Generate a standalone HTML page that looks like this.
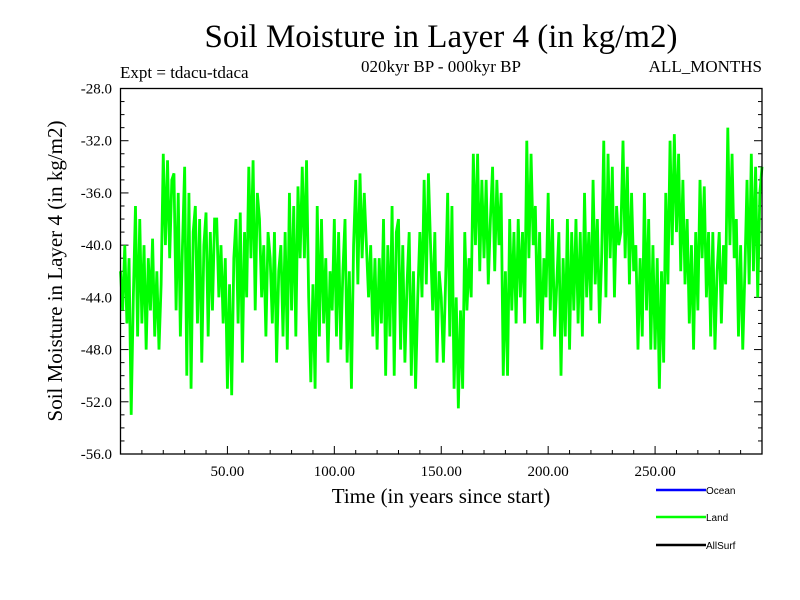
<!DOCTYPE html>
<html><head><meta charset="utf-8"><style>
html,body{margin:0;padding:0;background:#fff;}
svg{display:block;font-family:"Liberation Serif",serif;}
</style></head><body>
<svg id="chart" width="800" height="600" viewBox="0 0 800 600">
<rect width="800" height="600" fill="#fff"/>
<text x="441" y="47" font-size="33" text-anchor="middle">Soil Moisture in Layer 4 (in kg/m2)</text>
<text x="120" y="78" font-size="17">Expt = tdacu-tdaca</text>
<text x="441" y="72" font-size="17" text-anchor="middle">020kyr BP - 000kyr BP</text>
<text x="762" y="72" font-size="17" text-anchor="end">ALL_MONTHS</text>
<text x="441" y="503" font-size="21" text-anchor="middle">Time (in years since start)</text>
<text transform="translate(62,271) rotate(-90)" font-size="21" text-anchor="middle">Soil Moisture in Layer 4 (in kg/m2)</text>
<g id="ticks"></g>
<g id="plot"></g>
<rect x="120.5" y="88.5" width="641.5" height="365.5" fill="none" stroke="#000" stroke-width="1.3"/>
<g font-family="'Liberation Sans',sans-serif" font-size="10">
<g><line x1="656" y1="490" x2="706" y2="490" stroke="#0000ff" stroke-width="2.5"/><text x="706" y="494">Ocean</text></g>
<g><line x1="656" y1="517" x2="706" y2="517" stroke="#00ff00" stroke-width="2.5"/><text x="706" y="521">Land</text></g>
<g><line x1="656" y1="545" x2="706" y2="545" stroke="#000" stroke-width="2.5"/><text x="706" y="549">AllSurf</text></g>
</g>
</svg>
<script>
const landValues = [
-42,-45,-40,-46,-41,
-53,-44,-37,-47,-38,
-46,-40,-48,-41,-45,
-39.5,-47,-42,-48,-43,
-33,-40,-33.5,-41,-35,
-34.5,-45,-36,-47,-40,
-34,-50,-36,-51,-39,
-37,-46,-38,-49,-40,
-37.5,-47,-39,-45,-38,
-38,-44,-40,-46,-41,
-51,-43,-51.5,-41,-38,
-46,-37.5,-49,-39,-44,
-34,-41,-33.5,-45,-36,
-38,-44,-40,-47,-39,
-41,-46,-39,-49,-42,
-40,-47,-39,-48,-36,
-45,-37,-47,-35.5,-41,
-34,-41,-33.5,-44,-50.5,
-43,-51,-37,-47,-38,
-46,-41,-49,-42,-45,
-38,-47,-39,-48,-42,
-38,-49,-42,-51,-40,
-35,-43,-34.5,-41,-36,
-40,-44,-40,-47,-41,
-48,-41,-46,-38,-50,
-40,-47,-37,-50,-39,
-38,-48,-40,-49,-43,
-39,-50,-42,-51,-44,
-39,-44,-35,-43,-34.5,
-40,-45,-39,-49,-42,
-44,-49,-43,-36,-47,
-37,-51,-44,-52.5,-45,
-51,-39,-45,-41,-44,
-33,-40,-33,-42,-35,
-41,-35,-43,-38,-34,
-42,-35,-40,-36,-50,
-42,-50,-38,-45,-39,
-46,-38,-44,-39,-46,
-32,-41,-33,-40,-37,
-46,-39,-48,-41,-44,
-36,-45,-38,-47,-43,
-39,-50,-41,-47,-38,
-48,-39,-45,-38,-46,
-39,-47,-36,-44,-39,
-45,-35,-43,-38,-46,
-41,-32,-44,-33,-41,
-34,-44,-37,-40,-39,
-32,-41,-34,-43,-36,
-42,-40,-48,-41,-47,
-36,-45,-38,-48,-40,
-48,-41,-51,-42,-49,
-36,-43,-32,-40,-31.5,
-39,-33,-42,-35,-43,
-38,-46,-40,-48,-39,
-45,-35,-41,-35.5,-44,
-39,-47,-39,-48,-42,
-39,-46,-40,-43,-31,
-40,-33,-41,-38,-47,
-40,-48,-42,-35,-43,
-33,-42,-34,-44,-36,
-34
];
const xTickLabels = [50, 100, 150, 200, 250];
const yTickLabels = [-28, -32, -36, -40, -44, -48, -52, -56];

const NS = "http://www.w3.org/2000/svg";
const X0 = 120.5, X1 = 762, Y0 = 88.5, Y1 = 454;
const xMin = 0, xMax = 300, yMin = -56, yMax = -28;
function xs(v){ return X0 + (v - xMin) / (xMax - xMin) * (X1 - X0); }
function ys(v){ return Y1 - (v - yMin) / (yMax - yMin) * (Y1 - Y0); }

const ticks = document.getElementById('ticks');
const plot = document.getElementById('plot');
function mk(tag, attrs, parent){
  const e = document.createElementNS(NS, tag);
  for (const k in attrs) e.setAttribute(k, attrs[k]);
  parent.appendChild(e);
  return e;
}
for (let v = yMin; v <= yMax; v += 1) {
  const y = ys(v);
  const len = (v % 4 === 0) ? 8 : 4;
  const t1 = mk('line', {x1: X0, x2: X0 + len, y1: y, y2: y, stroke: '#000', 'stroke-width': 1}, ticks);
  
  
  const t2 = mk('line', {x1: X1, x2: X1 - len, y1: y, y2: y, stroke: '#000', 'stroke-width': 1}, ticks);
  
  
}
yTickLabels.forEach(v => {
  const t = mk('text', {x: 112, y: ys(v) + 5, 'font-size': 15, 'text-anchor': 'end'}, ticks);
  t.textContent = v.toFixed(1);
  
  
});
for (let v = 10; v < xMax; v += 10) {
  const x = xs(v);
  const len = (v % 50 === 0) ? 8 : 4;
  const t = mk('line', {x1: x, x2: x, y1: Y1, y2: Y1 - len, stroke: '#000', 'stroke-width': 1}, ticks);
  
  
}
xTickLabels.forEach(v => {
  const t = mk('text', {x: xs(v), y: 476, 'font-size': 15, 'text-anchor': 'middle'}, ticks);
  t.textContent = v.toFixed(2);
  
  
});
let d = '';
landValues.forEach((v, i) => {
  d += (i ? 'L' : 'M') + xs(i).toFixed(2) + ' ' + ys(v).toFixed(2) + ' ';
});
const line = mk('path', {d: d, fill: 'none', stroke: '#00ff00', 'stroke-width': 2.8, 'stroke-linejoin': 'miter'}, plot);


</script>
</body></html>
